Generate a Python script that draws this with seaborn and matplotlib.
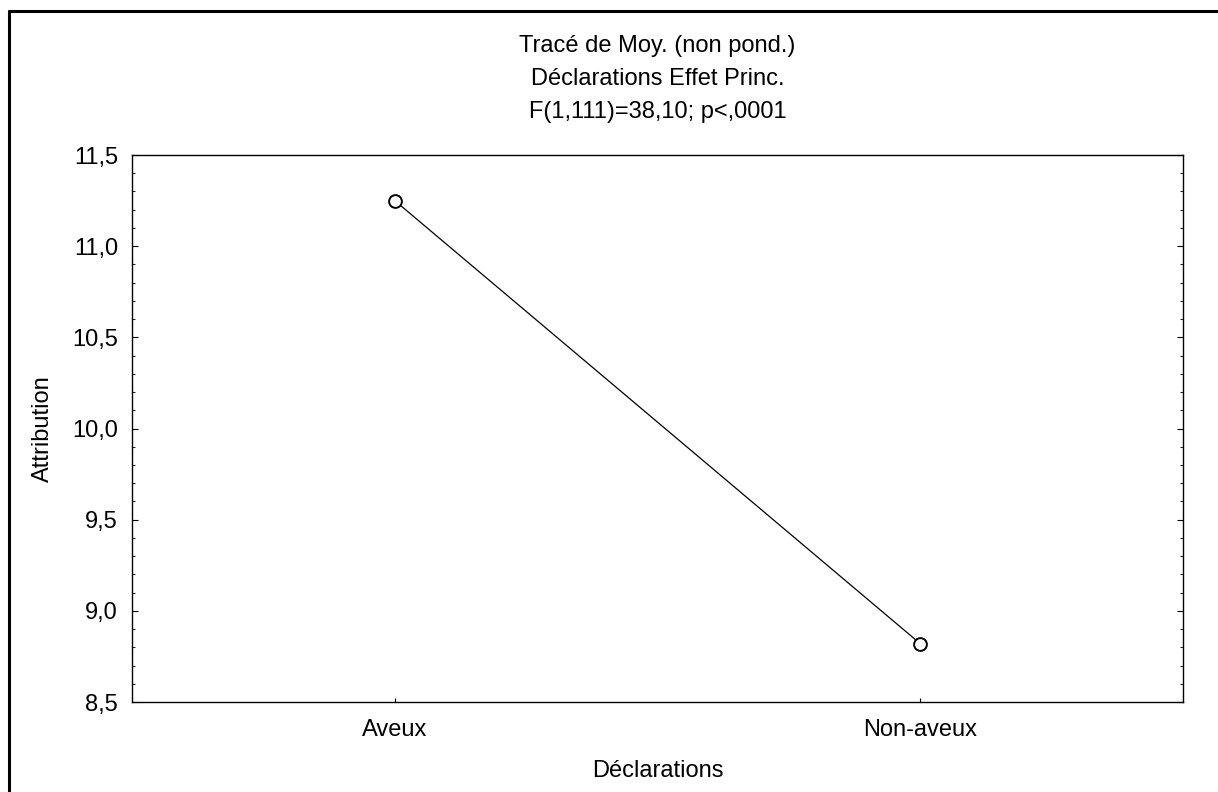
import matplotlib
matplotlib.use("Agg")
import matplotlib.pyplot as plt
import seaborn as sns
import pandas as pd
from matplotlib.ticker import MultipleLocator, FuncFormatter
from matplotlib.lines import Line2D

categories = ["Aveux", "Non-aveux"]
means = [11.25, 8.82]
title_lines = ["Tracé de Moy. (non pond.)", "Déclarations Effet Princ.", "F(1,111)=38,10; p<,0001"]

sns.set_theme(style="white")
plt.rcParams['font.family'] = ['Liberation Sans', 'DejaVu Sans']

df = pd.DataFrame({"Déclarations": categories, "Attribution": means})

fig = plt.figure(figsize=(12.18, 7.92), dpi=100)
ax = fig.add_axes([132/1218, 1-702/792, (1183-132)/1218, (702-155)/792])

sns.pointplot(data=df, x="Déclarations", y="Attribution", color="black",
              markers="o", linestyles="-", ax=ax,
              markersize=9.2, linewidth=0.9, markerfacecolor="white",
              markeredgewidth=1.4, markeredgecolor="black")

ax.set_xlim(-0.5, 1.5)
ax.set_ylim(8.5, 11.5)
ax.yaxis.set_major_locator(MultipleLocator(0.5))
ax.yaxis.set_minor_locator(MultipleLocator(0.1))
ax.yaxis.set_major_formatter(FuncFormatter(lambda v, p: f"{v:.1f}".replace(".", ",")))

for s in ax.spines.values():
    s.set_color("black")
    s.set_linewidth(1.0)
    s.set_visible(True)

FS = 17
ax.tick_params(axis="y", which="major", direction="in", length=4, width=0.8,
               left=True, right=True, labelsize=FS, colors="black", pad=10)
ax.tick_params(axis="y", which="minor", direction="in", length=2.5, width=0.8,
               left=True, right=True)
ax.tick_params(axis="x", which="major", direction="in", length=3, width=0.8,
               bottom=True, top=False, labelsize=FS, colors="black", pad=12)

ax.set_xlabel("Déclarations", fontsize=FS, color="black", labelpad=14)
ax.set_ylabel("Attribution", fontsize=FS, color="black", labelpad=13)

cx = (132 + 1183) / 2 / 1218
for i, t in enumerate(title_lines):
    fig.text(cx, 1 - (46 + 33 * i) / 792, t, ha="center", va="center", fontsize=FS, color="black")

# outer frame (left and top edges)
fig.add_artist(Line2D([9/1218, 9/1218], [0, 1 - 11/792], transform=fig.transFigure, color="black", linewidth=2.2))
fig.add_artist(Line2D([9/1218, 1], [1 - 11/792, 1 - 11/792], transform=fig.transFigure, color="black", linewidth=2.2))

fig.savefig("out.png", dpi=100, facecolor="white")
